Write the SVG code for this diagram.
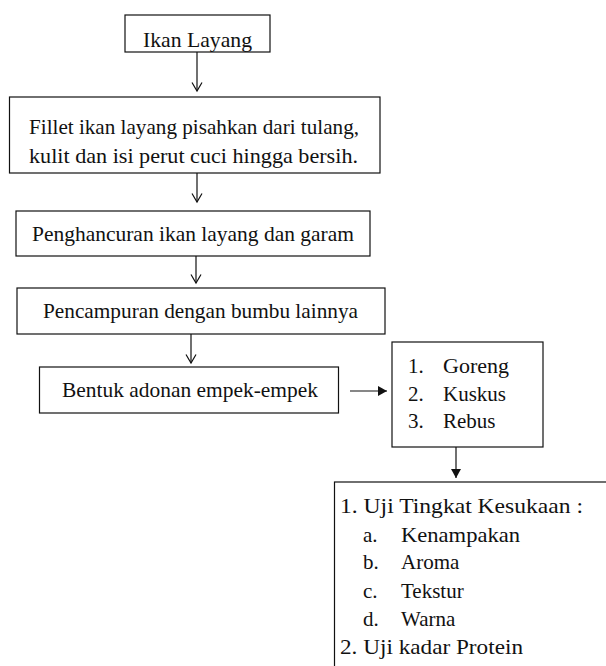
<svg xmlns="http://www.w3.org/2000/svg" width="606" height="666" viewBox="0 0 606 666">
<style>
.box{fill:#fff;stroke:#111;stroke-width:1.2}
.t{font-family:'Liberation Serif','Times New Roman',Times,serif;font-size:21px;fill:#111}
.c{fill:none;stroke:#111;stroke-width:1.2}
</style>
<defs>
<marker id="open" viewBox="-1 -6 11 12" refX="8.5" refY="0" markerWidth="11" markerHeight="12" markerUnits="userSpaceOnUse" orient="auto">
<path d="M0,-5 L8.5,0 L0,5" fill="none" stroke="#111" stroke-width="1.2"/>
</marker>
<marker id="fill" viewBox="-1 -6 11 12" refX="9" refY="0" markerWidth="11" markerHeight="12" markerUnits="userSpaceOnUse" orient="auto">
<path d="M0,-5 L9,0 L0,5 Z" fill="#111"/>
</marker>
</defs>
<rect width="606" height="666" fill="#fff"/>
<g id="n1">
<rect class="box" x="125" y="15" width="145" height="37"/>
<text class="t" x="143" y="47" textLength="109" lengthAdjust="spacingAndGlyphs">Ikan Layang</text>
</g>
<g id="n2">
<rect class="box" x="9.5" y="97" width="370.5" height="76"/>
<text class="t" x="29" y="134" textLength="330" lengthAdjust="spacingAndGlyphs">Fillet  ikan layang pisahkan dari tulang,</text>
<text class="t" x="29" y="163" textLength="329" lengthAdjust="spacingAndGlyphs">kulit  dan isi perut cuci hingga bersih.</text>
</g>
<g id="n3">
<rect class="box" x="16" y="211" width="354" height="45"/>
<text class="t" x="32" y="241" textLength="322" lengthAdjust="spacingAndGlyphs">Penghancuran ikan layang dan garam</text>
</g>
<g id="n4">
<rect class="box" x="17" y="288" width="368" height="46"/>
<text class="t" x="43" y="318" textLength="315" lengthAdjust="spacingAndGlyphs">Pencampuran dengan bumbu lainnya</text>
</g>
<g id="n5">
<rect class="box" x="39.5" y="367" width="299" height="46"/>
<text class="t" x="62" y="397" textLength="256" lengthAdjust="spacingAndGlyphs">Bentuk adonan empek-empek</text>
</g>
<g id="n6">
<rect class="box" x="392" y="342" width="151" height="105"/>
<text class="t" x="408" y="373">1.</text>
<text class="t" x="443" y="373" textLength="66" lengthAdjust="spacingAndGlyphs">Goreng</text>
<text class="t" x="408" y="401">2.</text>
<text class="t" x="443" y="401">Kuskus</text>
<text class="t" x="408" y="428">3.</text>
<text class="t" x="443" y="428">Rebus</text>
</g>
<g id="n7">
<rect class="box" x="334.5" y="482" width="290" height="200"/>
<text class="t" x="340" y="513" textLength="243" lengthAdjust="spacingAndGlyphs">1. Uji Tingkat  Kesukaan :</text>
<text class="t" x="363" y="542">a.</text>
<text class="t" x="401" y="542" textLength="119" lengthAdjust="spacingAndGlyphs">Kenampakan</text>
<text class="t" x="363" y="569">b.</text>
<text class="t" x="401" y="569">Aroma</text>
<text class="t" x="363" y="598">c.</text>
<text class="t" x="401" y="598">Tekstur</text>
<text class="t" x="363" y="626">d.</text>
<text class="t" x="401" y="626">Warna</text>
<text class="t" x="340" y="654" textLength="183" lengthAdjust="spacingAndGlyphs">2. Uji kadar Protein</text>
</g>
<g id="connectors">
<path class="c" d="M197,52 V91" marker-end="url(#open)"/>
<path class="c" d="M197,173 V202" marker-end="url(#open)"/>
<path class="c" d="M196,256 V283" marker-end="url(#open)"/>
<path class="c" d="M191,334 V363" marker-end="url(#open)"/>
<path class="c" d="M350,391 H387" marker-end="url(#fill)"/>
<path class="c" d="M456,447 V478" marker-end="url(#fill)"/>
</g>
</svg>
